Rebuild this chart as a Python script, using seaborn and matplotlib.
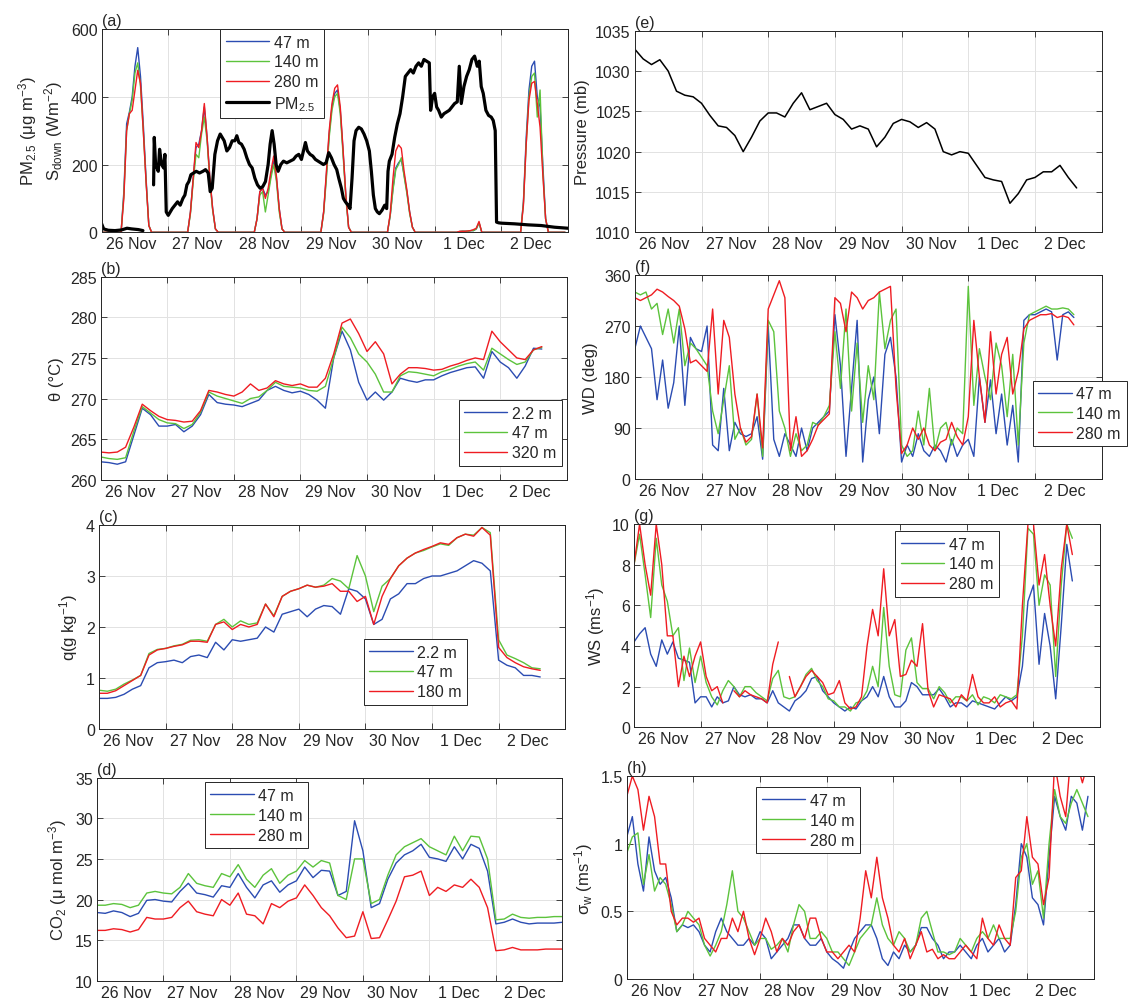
import numpy as np
import pandas as pd
import matplotlib
matplotlib.use('Agg')
import matplotlib.pyplot as plt
import seaborn as sns

# ---- data (time in days since 26 Nov 00:00) ----
day_labels = ['26 Nov', '27 Nov', '28 Nov', '29 Nov', '30 Nov', '1 Dec', '2 Dec']

# downward shortwave, hourly, one row per day
sdown_47 = [
    0, 0, 0, 0, 0, 0, 0, 0, 120, 320, 355, 400, 490, 545, 460, 320, 160, 20, 0, 0, 0, 0, 0, 0,
    0, 0, 0, 0, 0, 0, 0, 0, 60, 160, 250, 260, 300, 370, 280, 160, 70, 10, 0, 0, 0, 0, 0, 0,
    0, 0, 0, 0, 0, 0, 0, 0, 40, 120, 130, 110, 120, 170, 210, 160, 70, 10, 0, 0, 0, 0, 0, 0,
    0, 0, 0, 0, 0, 0, 0, 0, 60, 170, 290, 370, 410, 420, 360, 240, 110, 15, 0, 0, 0, 0, 0, 0,
    0, 0, 0, 0, 0, 0, 0, 0, 50, 130, 190, 205, 215, 170, 120, 60, 15, 0, 0, 0, 0, 0, 0, 0,
    0, 0, 0, 0, 0, 0, 0, 0, 0, 2, 3, 3, 3, 5, 5, 10, 28, 0, 0, 0, 0, 0, 0, 0,
    0, 0, 0, 0, 0, 0, 0, 0, 90, 280, 420, 490, 505, 400, 370, 200, 40, 0, 0, 0, 0, 0, 0, 0]
sdown_140 = [
    0, 0, 0, 0, 0, 0, 0, 0, 110, 300, 350, 390, 470, 500, 430, 300, 150, 20, 0, 0, 0, 0, 0, 0,
    0, 0, 0, 0, 0, 0, 0, 0, 55, 150, 230, 220, 290, 340, 270, 150, 65, 10, 0, 0, 0, 0, 0, 0,
    0, 0, 0, 0, 0, 0, 0, 0, 40, 110, 120, 60, 110, 160, 200, 150, 60, 10, 0, 0, 0, 0, 0, 0,
    0, 0, 0, 0, 0, 0, 0, 0, 55, 160, 280, 360, 400, 410, 350, 230, 100, 15, 0, 0, 0, 0, 0, 0,
    0, 0, 0, 0, 0, 0, 0, 0, 50, 125, 185, 200, 220, 165, 115, 55, 15, 0, 0, 0, 0, 0, 0, 0,
    0, 0, 0, 0, 0, 0, 0, 0, 0, 2, 3, 3, 3, 5, 5, 10, 28, 0, 0, 0, 0, 0, 0, 0,
    0, 0, 0, 0, 0, 0, 0, 0, 85, 260, 400, 460, 470, 340, 420, 180, 40, 0, 0, 0, 0, 0, 0, 0]
sdown_280 = [
    0, 0, 0, 0, 0, 0, 0, 0, 100, 300, 350, 360, 420, 478, 440, 300, 150, 20, 0, 0, 0, 0, 0, 0,
    0, 0, 0, 0, 0, 0, 0, 0, 60, 160, 265, 250, 300, 380, 280, 160, 70, 10, 0, 0, 0, 0, 0, 0,
    0, 0, 0, 0, 0, 0, 0, 0, 40, 120, 130, 100, 130, 180, 225, 165, 70, 10, 0, 0, 0, 0, 0, 0,
    0, 0, 0, 0, 0, 0, 0, 0, 60, 180, 300, 380, 425, 435, 370, 245, 110, 15, 0, 0, 0, 0, 0, 0,
    0, 0, 0, 0, 0, 0, 0, 0, 55, 160, 240, 258, 248, 180, 125, 60, 15, 0, 0, 0, 0, 0, 0, 0,
    0, 0, 0, 0, 0, 0, 0, 0, 0, 3, 3, 3, 4, 5, 8, 12, 32, 0, 0, 0, 0, 0, 0, 0,
    0, 0, 0, 0, 0, 0, 0, 0, 80, 260, 390, 440, 445, 380, 310, 170, 40, 0, 0, 0, 0, 0, 0, 0]

pm_t = [0.00, 0.03, 0.10, 0.20, 0.30, 0.38, 0.45, 0.55, 0.62, 0.70,
        0.78, 0.79, 0.81, 0.83, 0.85, 0.87, 0.90, 0.93, 0.95, 0.97,
        1.00, 1.03, 1.06, 1.10, 1.14, 1.18, 1.22, 1.25, 1.28, 1.31,
        1.34, 1.38, 1.42, 1.47, 1.52, 1.56, 1.60, 1.63, 1.66, 1.70,
        1.74, 1.78, 1.81, 1.84, 1.88, 1.92, 1.96, 2.00, 2.03, 2.06,
        2.10, 2.14, 2.18, 2.22, 2.26, 2.30, 2.34, 2.38, 2.42, 2.46,
        2.50, 2.53, 2.56, 2.59, 2.62, 2.65, 2.69, 2.73, 2.78, 2.83,
        2.88, 2.92, 2.96, 3.00, 3.03, 3.06, 3.09, 3.13, 3.17, 3.21,
        3.25, 3.29, 3.33, 3.37, 3.41, 3.45, 3.49, 3.53, 3.56, 3.60,
        3.63, 3.66, 3.70, 3.73, 3.76, 3.79, 3.82, 3.86, 3.90, 3.94,
        3.98, 4.02, 4.05, 4.08, 4.11, 4.14, 4.17, 4.21, 4.25, 4.28,
        4.30, 4.32, 4.36, 4.40, 4.44, 4.48, 4.52, 4.56, 4.60, 4.64,
        4.68, 4.72, 4.76, 4.80, 4.84, 4.88, 4.92, 4.94, 4.97, 5.00,
        5.03, 5.06, 5.10, 5.14, 5.18, 5.22, 5.26, 5.30, 5.34, 5.37,
        5.40, 5.44, 5.48, 5.52, 5.56, 5.60, 5.64, 5.67, 5.70, 5.73,
        5.77, 5.81, 5.85, 5.88, 5.91, 5.93, 5.96, 6.00, 6.20, 6.40,
        6.60, 6.80, 7.00]
pm_v = [25, 10, 6, 5, 7, 12, 10, 8, 5, np.nan,
        140, 280, 200, 190, 180, 245, 200, 190, 230, 60,
        50, 60, 70, 80, 90, 80, 100, 110, 140, 150,
        170, 175, 180, 175, 180, 185, 175, 120, 130, 230,
        270, 290, 280, 270, 240, 250, 270, 270, 285, 265,
        260, 245, 220, 200, 190, 160, 140, 130, 135, 150,
        200, 260, 300, 260, 200, 180, 200, 210, 205, 210,
        215, 225, 230, 215, 240, 265, 240, 230, 225, 215,
        210, 205, 200, 205, 235, 220, 200, 185, 160, 130,
        100, 90, 80, 70, 160, 270, 300, 310, 305, 290,
        270, 240, 180, 110, 70, 60, 55, 65, 80, 70,
        180, 210, 230, 280, 320, 350, 400, 460, 470, 480,
        470, 490, 500, 490, 510, 505, 500, 360, 400, 410,
        370, 360, 340, 350, 355, 360, 370, 380, 385, 490,
        380, 430, 460, 480, 510, 520, 490, 505, 430, 410,
        360, 345, 340, 330, 300, 30, 28, 27, 25, 22,
        20, 15, 12]

# potential temperature, 3-hourly
theta_22 = [262.2, 262.1, 261.9, 262.2, 265.5, 268.8, 268.0, 266.6,
            266.6, 266.8, 265.9, 266.6, 268.0, 270.5, 269.5, 269.3,
            269.2, 269.0, 269.4, 269.8, 271.0, 271.5, 271.0, 270.7,
            270.9, 270.5, 269.8, 268.8, 275.0, 278.3, 276.0, 272.0,
            269.8, 270.8, 269.8, 270.8, 272.5, 272.2, 272.0, 272.3,
            272.3, 272.8, 273.2, 273.5, 273.8, 273.9, 272.5, 275.8,
            274.5, 273.8, 272.5, 274.0, 276.2, 276.1]
theta_47 = [262.8, 262.6, 262.5, 262.7, 266.0, 269.0, 268.2, 267.4,
            267.0, 266.9, 266.3, 266.8, 268.3, 270.8, 270.3, 270.0,
            269.7, 269.4, 270.0, 270.2, 271.0, 272.0, 271.5, 271.4,
            271.3, 271.0, 270.9, 271.5, 275.0, 278.8, 277.5, 275.5,
            274.5, 273.0, 270.8, 270.8, 272.8, 273.3, 273.2, 273.0,
            272.8, 273.3, 273.6, 274.0, 274.3, 274.5, 273.5, 276.2,
            275.5, 274.8, 274.2, 274.5, 276.0, 276.3]
theta_320 = [263.4, 263.3, 263.4, 264.0, 266.5, 269.3, 268.5, 267.8,
             267.4, 267.3, 267.1, 267.2, 268.5, 271.0, 270.8, 270.5,
             270.3, 270.8, 271.8, 271.0, 271.3, 272.2, 271.8, 271.6,
             271.8, 271.4, 271.4, 272.5, 275.5, 279.3, 279.8, 278.0,
             275.8, 277.0, 275.5, 271.8, 273.0, 273.8, 273.8, 273.7,
             273.5, 273.6, 274.0, 274.3, 274.7, 275.0, 274.8, 278.3,
             277.0, 276.0, 275.0, 274.8, 276.0, 276.4]

# specific humidity, 3-hourly
q_22 = [0.60, 0.60, 0.62, 0.68, 0.78, 0.85, 1.20, 1.30,
        1.32, 1.35, 1.30, 1.42, 1.45, 1.40, 1.70, 1.55,
        1.75, 1.72, 1.75, 1.78, 2.00, 1.90, 2.25, 2.30,
        2.35, 2.20, 2.35, 2.42, 2.40, 2.25, 2.75, 2.70,
        2.55, 2.05, 2.15, 2.55, 2.65, 2.85, 2.85, 2.95,
        3.00, 3.00, 3.05, 3.10, 3.20, 3.30, 3.25, 3.10,
        1.35, 1.25, 1.20, 1.05, 1.05, 1.02]
q_47 = [0.76, 0.74, 0.78, 0.88, 0.96, 1.05, 1.48, 1.56,
        1.58, 1.63, 1.66, 1.74, 1.75, 1.72, 2.05, 2.15,
        2.00, 2.12, 2.05, 2.08, 2.45, 2.22, 2.60, 2.70,
        2.75, 2.82, 2.78, 2.82, 2.95, 2.90, 2.75, 3.40,
        3.00, 2.30, 2.80, 2.95, 3.20, 3.35, 3.45, 3.50,
        3.57, 3.63, 3.60, 3.75, 3.82, 3.80, 3.95, 3.85,
        1.75, 1.45, 1.38, 1.30, 1.20, 1.18]
q_180 = [0.70, 0.70, 0.75, 0.85, 0.95, 1.05, 1.45, 1.55,
         1.58, 1.62, 1.65, 1.72, 1.72, 1.70, 2.05, 2.10,
         1.95, 2.05, 2.00, 2.05, 2.45, 2.20, 2.60, 2.70,
         2.75, 2.82, 2.78, 2.80, 2.85, 2.70, 2.70, 2.50,
         2.60, 2.05, 2.60, 2.95, 3.20, 3.35, 3.45, 3.52,
         3.58, 3.65, 3.62, 3.75, 3.82, 3.78, 3.95, 3.80,
         1.60, 1.40, 1.30, 1.22, 1.18, 1.15]

# CO2, 3-hourly
co2_47 = [18.4, 18.3, 18.6, 18.4, 17.9, 18.3, 19.9, 20.0,
          19.8, 19.7, 21.0, 22.0, 20.8, 20.6, 20.3, 21.7,
          21.5, 23.2, 21.5, 20.2, 21.8, 22.3, 20.9, 21.8,
          22.3, 24.0, 22.7, 23.6, 23.5, 20.5, 21.0, 29.7,
          26.0, 19.0, 19.5, 22.5, 24.5, 25.5, 26.0, 26.8,
          25.2, 25.0, 24.7, 26.5, 25.0, 26.8, 26.3, 23.5,
          17.0, 17.2, 17.6, 17.2, 17.0, 17.1, 17.1, 17.1,
          17.2]
co2_140 = [19.3, 19.3, 19.5, 19.4, 19.0, 19.3, 20.8, 21.0,
           20.8, 20.7, 21.5, 23.2, 22.0, 21.7, 21.5, 23.2,
           22.8, 24.3, 22.5, 21.5, 23.0, 23.8, 22.0, 23.0,
           23.5, 24.8, 24.0, 24.8, 24.5, 20.5, 20.0, 25.0,
           25.0, 19.5, 20.0, 23.0, 25.5, 26.5, 27.0, 27.5,
           26.5, 26.0, 25.5, 27.8, 26.0, 27.8, 27.7, 25.0,
           17.5, 17.6, 18.2, 17.8, 17.7, 17.8, 17.8, 17.9,
           17.9]
co2_280 = [16.2, 16.2, 16.4, 16.3, 16.0, 16.3, 17.8, 17.6,
           17.6, 17.8, 19.0, 19.8, 18.5, 18.2, 18.0, 20.0,
           19.3, 20.8, 18.2, 18.0, 17.0, 19.5, 19.0, 19.8,
           20.2, 21.8, 20.5, 19.0, 18.0, 16.5, 15.3, 15.5,
           18.5, 15.2, 15.3, 17.5, 19.8, 22.8, 23.0, 23.5,
           20.5, 21.5, 21.0, 21.8, 21.5, 22.5, 21.5, 19.0,
           13.7, 13.8, 14.1, 13.8, 13.8, 13.8, 13.9, 13.9,
           13.9]

# surface pressure, 3-hourly
pressure = [1032.7, 1031.5, 1030.8, 1031.4, 1030.0, 1027.5, 1027.0, 1026.8,
            1026.0, 1024.5, 1023.2, 1023.0, 1022.0, 1020.0, 1021.8, 1023.8,
            1024.8, 1024.8, 1024.3, 1026.0, 1027.3, 1025.2, 1025.6, 1026.0,
            1024.6, 1024.0, 1022.8, 1023.2, 1022.8, 1020.6, 1021.8, 1023.5,
            1024.0, 1023.7, 1023.0, 1023.6, 1022.8, 1020.0, 1019.6, 1020.0,
            1019.8, 1018.3, 1016.8, 1016.5, 1016.3, 1013.6, 1014.8, 1016.5,
            1016.8, 1017.5, 1017.5, 1018.3, 1016.8, 1015.5]

# wind direction, 2-hourly
wd_47 = [230, 270, 250, 230, 140, 210, 125, 170, 270, 130, 250, 230,
         225, 270, 60, 50, 160, 50, 100, 80, 75, 80, 110, 35,
         270, 70, 40, 80, 60, 40, 90, 50, 90, 100, 110, 120,
         290, 200, 40, 160, 280, 30, 140, 180, 80, 220, 250, 180,
         30, 60, 40, 80, 50, 40, 60, 50, 30, 70, 40, 60,
         70, 40, 180, 100, 175, 80, 150, 60, 130, 30, 280, 290,
         290, 295, 300, 295, 210, 290, 295, 285]
wd_140 = [330, 325, 330, 300, 310, 255, 300, 240, 300, 200, 240, 230,
          215, 200, 120, 80, 140, 200, 70, 90, 60, 70, 150, 40,
          280, 260, 120, 90, 40, 80, 50, 60, 100, 95, 110, 130,
          260, 160, 300, 120, 240, 100, 200, 140, 330, 230, 280, 300,
          60, 40, 50, 120, 60, 160, 50, 90, 100, 60, 90, 80,
          340, 130, 230, 180, 140, 240, 200, 110, 220, 60, 240, 290,
          295, 300, 305, 300, 300, 302, 300, 290]
wd_280 = [320, 315, 320, 325, 335, 330, 322, 315, 305, 265, 205, 210,
          200, 190, 300, 150, 280, 250, 150, 90, 65, 75, 150, 55,
          300, 325, 350, 320, 50, 110, 40, 50, 70, 95, 105, 115,
          320, 310, 260, 330, 320, 300, 315, 320, 330, 335, 340, 160,
          45, 60, 90, 70, 90, 60, 50, 65, 70, 100, 75, 60,
          110, 280, 180, 100, 260, 150, 220, 250, 150, 190, 265, 280,
          285, 290, 290, 292, 285, 288, 285, 272]

# wind speed, 2-hourly
ws_47 = [4.2, 4.6, 4.9, 3.6, 3.0, 4.3, 3.6, 4.2, 3.4, 3.3, 3.2, 1.2,
         1.5, 1.5, 1.0, 1.5, 1.2, 1.3, 2.0, 1.6, 1.5, 1.6, 1.4, 1.4,
         1.2, 1.8, 1.2, 1.0, 0.8, 1.3, 1.5, 1.8, 2.4, 2.5, 1.8, 1.5,
         1.2, 1.0, 0.8, 1.0, 0.9, 1.3, 1.5, 2.0, 1.5, 2.5, 1.5, 1.0,
         1.0, 1.3, 2.2, 2.0, 1.6, 1.6, 1.6, 1.9, 1.5, 1.0, 1.2, 1.2,
         1.0, 1.3, 1.2, 1.1, 1.0, 0.9, 1.2, 1.5, 1.3, 1.5, 3.0, 6.2,
         7.0, 3.1, 5.6, 4.0, 1.4, 5.0, 9.0, 7.2]
ws_140 = [8.0, 9.5, 7.5, 5.4, 9.3, 7.0, 6.2, 4.5, 4.9, 2.3, 3.9, 2.2,
          3.5, 2.2, 1.5, 1.1, 1.8, 2.3, 2.0, 1.5, 2.0, 2.0, 1.7, 1.5,
          1.3, 2.4, 2.8, 1.5, 1.4, 1.5, 2.0, 2.6, 2.9, 2.3, 2.0, 1.4,
          1.3, 1.0, 1.0, 0.8, 1.2, 1.3, 1.8, 3.0, 2.0, 5.9, 3.0, 1.6,
          1.5, 3.8, 4.4, 2.2, 1.9, 1.9, 1.4, 2.0, 1.7, 1.2, 1.5, 1.5,
          1.3, 1.6, 1.1, 1.5, 1.4, 1.2, 1.6, 1.5, 1.4, 1.6, 4.5, 9.8,
          9.5, 6.0, 7.5, 7.0, 2.5, 7.0, 10.0, 9.3]
ws_280 = [8.0, 10.0, 8.0, 6.5, 10.0, 8.0, 4.5, 4.5, 2.0, 3.5, 2.5, 3.5,
          4.2, 2.5, 1.8, 2.0, 1.2, np.nan, 1.8, 1.5, 1.8, 1.6, 1.5, 1.4,
          1.2, 3.1, 4.2, np.nan, 2.5, 1.5, 2.0, 2.5, 2.8, 2.5, 2.2, 1.6,
          1.7, 2.3, 1.2, 0.9, 1.0, 1.5, 4.0, 5.8, 4.5, 7.8, 4.5, 5.3,
          2.5, 2.6, 3.3, 3.0, 5.1, 1.8, 1.0, 1.6, 1.5, 1.4, 1.0, 1.6,
          1.3, 2.6, 1.5, 1.2, 1.2, 1.5, 1.0, 1.2, 1.3, 0.9, 6.0, 10.0,
          10.0, 7.0, 8.5, 6.0, 4.0, 7.8, 10.0, 8.5]

# sigma_w, 2-hourly
sw_47 = [1.05, 1.20, 0.85, 0.65, 1.05, 0.80, 0.70, 0.75, 0.60, 0.35, 0.40, 0.38,
         0.40, 0.35, 0.25, 0.20, 0.35, 0.45, 0.35, 0.30, 0.25, 0.25, 0.30, 0.25,
         0.35, 0.30, 0.15, 0.20, 0.25, 0.30, 0.40, 0.40, 0.30, 0.25, 0.25, 0.30,
         0.20, 0.15, 0.12, 0.08, 0.20, 0.30, 0.35, 0.40, 0.40, 0.30, 0.15, 0.10,
         0.20, 0.15, 0.25, 0.20, 0.25, 0.38, 0.38, 0.30, 0.25, 0.15, 0.20, 0.20,
         0.25, 0.20, 0.15, 0.25, 0.30, 0.20, 0.25, 0.30, 0.20, 0.25, 0.55, 1.00,
         0.90, 0.60, 0.55, 0.40, 0.90, 1.35, 1.20, 1.10, 1.35, 1.30, 1.10, 1.35]
sw_140 = [0.93, 1.05, 1.08, 0.70, 0.92, 0.65, 0.75, 0.70, 0.55, 0.35, 0.40, 0.50,
          0.45, 0.40, 0.25, 0.17, 0.25, 0.35, 0.55, 0.80, 0.50, 0.45, 0.35, 0.25,
          0.30, 0.30, 0.22, 0.25, 0.30, 0.20, 0.40, 0.55, 0.50, 0.30, 0.30, 0.35,
          0.30, 0.20, 0.20, 0.15, 0.10, 0.20, 0.30, 0.35, 0.40, 0.60, 0.40, 0.30,
          0.25, 0.35, 0.30, 0.20, 0.25, 0.45, 0.50, 0.35, 0.20, 0.20, 0.18, 0.20,
          0.30, 0.25, 0.20, 0.30, 0.35, 0.30, 0.40, 0.30, 0.30, 0.30, 0.50, 0.90,
          1.00, 0.70, 0.80, 0.45, 1.00, 1.40, 1.20, 1.15, 1.30, 1.40, 1.30, 1.20]
sw_280 = [1.35, 1.50, 1.40, 1.10, 1.35, 1.20, 0.85, 0.85, 0.50, 0.40, 0.45, 0.45,
          0.42, 0.45, 0.30, 0.25, 0.20, 0.30, 0.30, 0.45, 0.35, 0.50, 0.30, 0.18,
          0.30, 0.45, 0.35, 0.20, 0.30, 0.25, 0.35, 0.40, 0.30, 0.45, 0.45, 0.30,
          0.20, 0.20, 0.15, 0.20, 0.25, 0.20, 0.45, 0.80, 0.60, 0.90, 0.60, 0.45,
          0.25, 0.20, 0.30, 0.15, 0.25, 0.35, 0.20, 0.22, 0.15, 0.18, 0.15, 0.15,
          0.20, 0.25, 0.20, 0.15, 0.45, 0.30, 0.25, 0.40, 0.30, 0.25, 0.75, 0.80,
          1.20, 0.90, 0.85, 0.55, 0.75, 1.60, 1.35, 1.20, 1.70, 1.60, 1.45, 1.60]

# time axes
t_hour = np.arange(len(sdown_47)) / 24
t_3h = np.arange(len(theta_22)) * 0.125
t_3h_co2 = np.arange(len(co2_47)) * 0.125
t_2h = np.arange(len(wd_47)) / 12
t_2h_sw = np.arange(len(sw_47)) / 12

# ---- style ----
sns.set_theme(style='white')
plt.rcParams['font.family'] = ['Liberation Sans', 'DejaVu Sans']
plt.rcParams['mathtext.default'] = 'regular'
plt.rcParams['axes.edgecolor'] = '#262626'
plt.rcParams['text.color'] = '#262626'
plt.rcParams['axes.labelcolor'] = '#262626'

BLUE = '#2b4cb2'
GREEN = '#5cc33c'
RED = '#ef1c22'
FS = 11.5


def draw(ax, t, v, color, label=None, lw=1.0):
    # split at NaN so gaps stay open
    df = pd.DataFrame({'t': t, 'v': v})
    seg = df['v'].isna().cumsum()
    first = True
    for _, part in df[df['v'].notna()].groupby(seg[df['v'].notna()]):
        kw = {'label': label} if (first and label) else {}
        sns.lineplot(data=part, x='t', y='v', ax=ax, color=color, lw=lw,
                     estimator=None, sort=False, legend=False, **kw)
        first = False


def style_axis(ax, ylim, yticks, ylabel, tag, yticklabels=None):
    ax.set_xlim(0, 7)
    ax.set_ylim(*ylim)
    ax.set_xticks(range(0, 8))
    ax.set_xticks(np.arange(7) + 0.44, minor=True)
    ax.set_xticklabels(day_labels, minor=True)
    ax.tick_params(axis='x', which='major', direction='in', length=4, width=0.6,
                   top=True, bottom=True, labelbottom=False, color='#262626')
    ax.tick_params(axis='x', which='minor', length=0, labelsize=FS, pad=3,
                   labelcolor='#262626')
    ax.set_yticks(yticks)
    if yticklabels is not None:
        ax.set_yticklabels(yticklabels)
    ax.tick_params(axis='y', direction='in', length=4, width=0.6, left=True,
                   right=True, labelsize=FS, pad=3, color='#262626',
                   labelcolor='#262626')
    ax.grid(True, which='major', color='#e2e2e2', lw=0.7)
    ax.set_axisbelow(True)
    for s in ax.spines.values():
        s.set_linewidth(0.7)
        s.set_color('#262626')
    ax.set_xlabel('')
    ax.set_ylabel(ylabel, fontsize=FS + 0.5, labelpad=4)
    ax.text(0.0, 1.005, tag, transform=ax.transAxes, ha='left', va='bottom',
            fontsize=FS)


def add_legend(ax, loc, anchor, hl=2.7):
    leg = ax.legend(loc=loc, bbox_to_anchor=anchor, fontsize=FS, frameon=True,
                    fancybox=False, framealpha=1, edgecolor='#262626',
                    borderpad=0.35, labelspacing=0.3, handlelength=hl,
                    handletextpad=0.3, borderaxespad=0)
    leg.get_frame().set_linewidth(0.7)
    return leg


fig = plt.figure(figsize=(11.32, 10.03), dpi=100)
ax_a = fig.add_axes([0.0898, 0.7674, 0.4118, 0.2027])
ax_b = fig.add_axes([0.0889, 0.5208, 0.4118, 0.2022])
ax_c = fig.add_axes([0.0875, 0.2722, 0.4118, 0.2034])
ax_d = fig.add_axes([0.0856, 0.0212, 0.4112, 0.2024])
ax_e = fig.add_axes([0.5608, 0.7674, 0.4124, 0.2010])
ax_f = fig.add_axes([0.5608, 0.5214, 0.4124, 0.2034])
ax_g = fig.add_axes([0.5601, 0.2739, 0.4117, 0.2026])
ax_h = fig.add_axes([0.5537, 0.0229, 0.4123, 0.2024])

# (a)
draw(ax_a, t_hour, sdown_47, BLUE, '47 m')
draw(ax_a, t_hour, sdown_140, GREEN, '140 m')
draw(ax_a, t_hour, sdown_280, RED, '280 m')
draw(ax_a, pm_t, pm_v, 'black', 'PM$_{2.5}$', lw=2.3)
style_axis(ax_a, (0, 600), [0, 200, 400, 600],
           'PM$_{2.5}$ (μg m$^{-3}$)\nS$_{down}$ (Wm$^{-2}$)', '(a)')
add_legend(ax_a, 'upper left', (0.254, 1.0))

# (b)
draw(ax_b, t_3h, theta_22, BLUE, '2.2 m')
draw(ax_b, t_3h, theta_47, GREEN, '47 m')
draw(ax_b, t_3h, theta_320, RED, '320 m')
style_axis(ax_b, (260, 285), range(260, 286, 5), 'θ (°C)', '(b)')
add_legend(ax_b, 'lower right', (0.99, 0.068))

# (c)
draw(ax_c, t_3h, q_22, BLUE, '2.2 m')
draw(ax_c, t_3h, q_47, GREEN, '47 m')
draw(ax_c, t_3h, q_180, RED, '180 m')
style_axis(ax_c, (0, 4), range(0, 5), 'q(g kg$^{-1}$)', '(c)')
add_legend(ax_c, 'upper left', (0.568, 0.441))

# (d)
draw(ax_d, t_3h_co2, co2_47, BLUE, '47 m')
draw(ax_d, t_3h_co2, co2_140, GREEN, '140 m')
draw(ax_d, t_3h_co2, co2_280, RED, '280 m')
style_axis(ax_d, (10, 35), range(10, 36, 5), 'CO$_2$ (μ mol m$^{-3}$)', '(d)')
add_legend(ax_d, 'upper left', (0.232, 0.977))

# (e)
draw(ax_e, t_3h, pressure, 'black', lw=1.1)
style_axis(ax_e, (1010, 1035), range(1010, 1036, 5), 'Pressure (mb)', '(e)')

# (f)
draw(ax_f, t_2h, wd_47, BLUE, '47 m')
draw(ax_f, t_2h, wd_140, GREEN, '140 m')
draw(ax_f, t_2h, wd_280, RED, '280 m')
style_axis(ax_f, (0, 360), [0, 90, 180, 270, 360], 'WD (deg)', '(f)')
add_legend(ax_f, 'upper left', (0.852, 0.482), hl=2.1)

# (g)
draw(ax_g, t_2h, ws_47, BLUE, '47 m')
draw(ax_g, t_2h, ws_140, GREEN, '140 m')
draw(ax_g, t_2h, ws_280, RED, '280 m')
style_axis(ax_g, (0, 10), range(0, 11, 2), 'WS (ms$^{-1}$)', '(g)')
add_legend(ax_g, 'upper left', (0.561, 0.966))

# (h)
draw(ax_h, t_2h_sw, sw_47, BLUE, '47 m')
draw(ax_h, t_2h_sw, sw_140, GREEN, '140 m')
draw(ax_h, t_2h_sw, sw_280, RED, '280 m')
style_axis(ax_h, (0, 1.5), [0, 0.5, 1, 1.5], 'σ$_w$ (ms$^{-1}$)', '(h)',
           yticklabels=['0', '0.5', '1', '1.5'])
add_legend(ax_h, 'upper left', (0.277, 0.944))

fig.savefig('out.png', dpi=100, facecolor='white')
